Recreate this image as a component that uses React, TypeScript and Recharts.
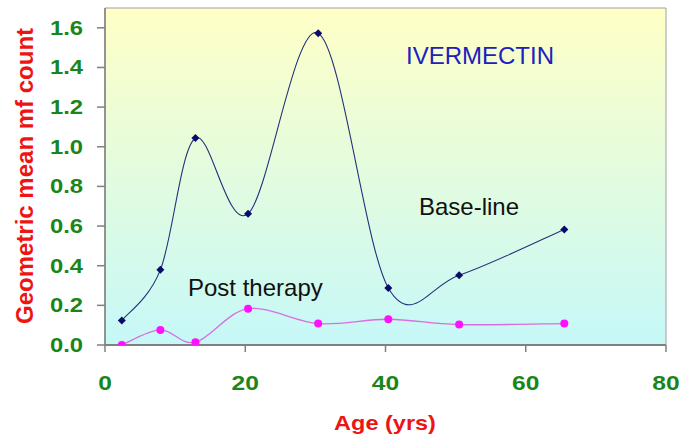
import React from 'react';
import { LineChart, Line, XAxis, YAxis, ReferenceArea } from 'recharts';

// ages at which both series were sampled
const ages = [2.4, 7.9, 12.9, 20.4, 30.4, 40.4, 50.5, 65.5];
const baseLine = [0.123, 0.379, 1.044, 0.662, 1.573, 0.288, 0.352, 0.583];
const postTherapy = [0.0, 0.076, 0.014, 0.183, 0.108, 0.13, 0.103, 0.108];
const xTicks = [0, 20, 40, 60, 80];
const yTicks = [0, 0.2, 0.4, 0.6, 0.8, 1.0, 1.2, 1.4, 1.6];

const data = ages.map((age, i) => ({ age, base: baseLine[i], post: postTherapy[i] }));

const GREEN = '#1a861a';
const RED = '#ee1414';

// Excel-style smoothed line (Catmull-Rom through the points)
const excelSmooth: any = (context: any) => {
  let pts: number[][] = [];
  return {
    areaStart() {},
    areaEnd() {},
    lineStart() {
      pts = [];
    },
    point(x: number, y: number) {
      pts.push([+x, +y]);
    },
    lineEnd() {
      if (!pts.length) return;
      context.moveTo(pts[0][0], pts[0][1]);
      const t = 1 / 6;
      for (let i = 0; i < pts.length - 1; i++) {
        const p0 = pts[i - 1] || pts[i];
        const p1 = pts[i];
        const p2 = pts[i + 1];
        const p3 = pts[i + 2] || p2;
        context.bezierCurveTo(
          p1[0] + (p2[0] - p0[0]) * t,
          p1[1] + (p2[1] - p0[1]) * t,
          p2[0] - (p3[0] - p1[0]) * t,
          p2[1] - (p3[1] - p1[1]) * t,
          p2[0],
          p2[1]
        );
      }
    },
  };
};

const Diamond = (props: any) => {
  const { cx, cy, index } = props;
  const s = 4;
  return (
    <path
      key={`d-${index}`}
      d={`M${cx},${cy - s}L${cx + s},${cy}L${cx},${cy + s}L${cx - s},${cy}Z`}
      fill="#0a0a6a"
    />
  );
};

const YTick = ({ x, y, payload }: any) => (
  <text
    transform={`translate(${x},${y}) scale(1.19,1)`}
    textAnchor="end"
    dy={7}
    fontSize={20}
    fontWeight="bold"
    fill={GREEN}
    fontFamily="Liberation Sans, Arial, sans-serif"
  >
    {Number(payload.value).toFixed(1)}
  </text>
);

const XTick = ({ x, y, payload }: any) => (
  <text
    transform={`translate(${x},${y}) scale(1.17,1)`}
    textAnchor="middle"
    dy={36}
    fontSize={21}
    fontWeight="bold"
    fill={GREEN}
    fontFamily="Liberation Sans, Arial, sans-serif"
  >
    {payload.value}
  </text>
);

export default function App() {
  return (
    <div style={{ position: 'absolute', left: 0, top: 0, width: 679, height: 439, background: '#fff' }}>
      <LineChart
        width={679}
        height={439}
        data={data}
        margin={{ top: 8, right: 13, bottom: 0, left: 0 }}
      >
        <defs>
          <linearGradient id="plotBg" x1="0" y1="0" x2="0" y2="1">
            <stop offset="0%" stopColor="#ffffc6" />
            <stop offset="100%" stopColor="#c6f8f8" />
          </linearGradient>
        </defs>
        <ReferenceArea
          x1={0}
          x2={80}
          y1={0}
          y2={1.7}
          fill="url(#plotBg)"
          fillOpacity={1}
          stroke="#a0a0a0"
          strokeWidth={1}
        />
        <XAxis
          type="number"
          dataKey="age"
          domain={[0, 80]}
          ticks={xTicks}
          height={94}
          tickSize={7}
          tick={<XTick />}
          axisLine={{ stroke: '#808080', strokeWidth: 2 }}
          tickLine={{ stroke: '#808080', strokeWidth: 1.5 }}
        />
        <YAxis
          type="number"
          domain={[0, 1.7]}
          ticks={yTicks}
          width={105}
          tickSize={8}
          tickMargin={14}
          tick={<YTick />}
          axisLine={{ stroke: '#808080', strokeWidth: 1.5 }}
          tickLine={{ stroke: '#808080', strokeWidth: 1.5 }}
          allowDataOverflow
        />
        <Line
          dataKey="post"
          type={excelSmooth}
          stroke="#d86ee0"
          strokeWidth={1.3}
          dot={{ r: 4, fill: '#ff10ff', stroke: 'none' }}
          isAnimationActive={false}
        />
        <Line
          dataKey="base"
          type={excelSmooth}
          stroke="#24307a"
          strokeWidth={1.1}
          dot={<Diamond />}
          isAnimationActive={false}
        />
      </LineChart>
      <svg
        width={679}
        height={439}
        style={{ position: 'absolute', left: 0, top: 0, pointerEvents: 'none' }}
        fontFamily="Liberation Sans, Arial, sans-serif"
      >
        <text x={406} y={64} fontSize={24} fill="#2020c0">
          IVERMECTIN
        </text>
        <text x={419} y={215} fontSize={24} fill="#111">
          Base-line
        </text>
        <text x={188} y={296} fontSize={24} fill="#111">
          Post therapy
        </text>
        <text
          transform="translate(385,430) scale(1.12,1)"
          textAnchor="middle"
          fontSize={21}
          fontWeight="bold"
          fill={RED}
        >
          Age (yrs)
        </text>
        <text
          transform="translate(33,176) rotate(-90)"
          textAnchor="middle"
          fontSize={24}
          fontWeight="bold"
          fill={RED}
        >
          Geometric mean mf count
        </text>
      </svg>
    </div>
  );
}
